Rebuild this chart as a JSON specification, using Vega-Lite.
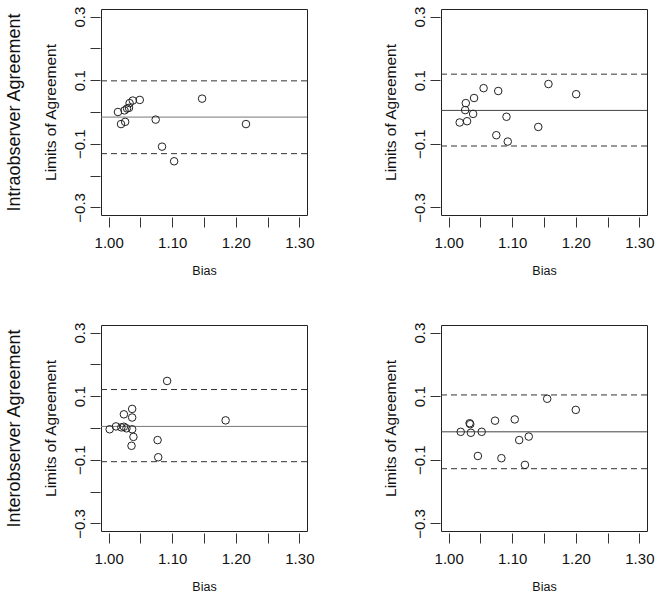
{
  "$schema": "https://vega.github.io/schema/vega-lite/v6.json",
  "autosize": "none",
  "padding": {"left": 101, "top": 9, "right": 559, "bottom": 589},
  "background": "white",
  "datasets": {
    "pts": [
      {"panel": "A", "bias": 1.0147, "loa": 0.000},
      {"panel": "A", "bias": 1.0195, "loa": -0.038},
      {"panel": "A", "bias": 1.026, "loa": -0.031},
      {"panel": "A", "bias": 1.025, "loa": 0.005},
      {"panel": "A", "bias": 1.029, "loa": 0.011},
      {"panel": "A", "bias": 1.032, "loa": 0.013},
      {"panel": "A", "bias": 1.033, "loa": 0.028},
      {"panel": "A", "bias": 1.038, "loa": 0.036},
      {"panel": "A", "bias": 1.049, "loa": 0.038},
      {"panel": "A", "bias": 1.074, "loa": -0.024},
      {"panel": "A", "bias": 1.084, "loa": -0.109},
      {"panel": "A", "bias": 1.103, "loa": -0.155},
      {"panel": "A", "bias": 1.147, "loa": 0.042},
      {"panel": "A", "bias": 1.216, "loa": -0.038},
      {"panel": "B", "bias": 1.0174, "loa": -0.033},
      {"panel": "B", "bias": 1.029, "loa": -0.029},
      {"panel": "B", "bias": 1.027, "loa": 0.028},
      {"panel": "B", "bias": 1.026, "loa": 0.006},
      {"panel": "B", "bias": 1.0385, "loa": -0.006},
      {"panel": "B", "bias": 1.040, "loa": 0.044},
      {"panel": "B", "bias": 1.055, "loa": 0.075},
      {"panel": "B", "bias": 1.078, "loa": 0.066},
      {"panel": "B", "bias": 1.091, "loa": -0.015},
      {"panel": "B", "bias": 1.075, "loa": -0.073},
      {"panel": "B", "bias": 1.093, "loa": -0.093},
      {"panel": "B", "bias": 1.141, "loa": -0.047},
      {"panel": "B", "bias": 1.157, "loa": 0.088},
      {"panel": "B", "bias": 1.2006, "loa": 0.056},
      {"panel": "C", "bias": 1.0016, "loa": -0.004},
      {"panel": "C", "bias": 1.0116, "loa": 0.005},
      {"panel": "C", "bias": 1.020, "loa": 0.002},
      {"panel": "C", "bias": 1.024, "loa": 0.004},
      {"panel": "C", "bias": 1.028, "loa": -0.001},
      {"panel": "C", "bias": 1.024, "loa": 0.043},
      {"panel": "C", "bias": 1.037, "loa": 0.060},
      {"panel": "C", "bias": 1.037, "loa": 0.033},
      {"panel": "C", "bias": 1.037, "loa": -0.004},
      {"panel": "C", "bias": 1.039, "loa": -0.028},
      {"panel": "C", "bias": 1.036, "loa": -0.056},
      {"panel": "C", "bias": 1.077, "loa": -0.038},
      {"panel": "C", "bias": 1.078, "loa": -0.092},
      {"panel": "C", "bias": 1.092, "loa": 0.148},
      {"panel": "C", "bias": 1.184, "loa": 0.024},
      {"panel": "D", "bias": 1.019, "loa": -0.012},
      {"panel": "D", "bias": 1.033, "loa": 0.015},
      {"panel": "D", "bias": 1.034, "loa": 0.012},
      {"panel": "D", "bias": 1.035, "loa": -0.015},
      {"panel": "D", "bias": 1.052, "loa": -0.012},
      {"panel": "D", "bias": 1.046, "loa": -0.088},
      {"panel": "D", "bias": 1.073, "loa": 0.023},
      {"panel": "D", "bias": 1.083, "loa": -0.095},
      {"panel": "D", "bias": 1.104, "loa": 0.027},
      {"panel": "D", "bias": 1.111, "loa": -0.038},
      {"panel": "D", "bias": 1.126, "loa": -0.027},
      {"panel": "D", "bias": 1.120, "loa": -0.116},
      {"panel": "D", "bias": 1.155, "loa": 0.092},
      {"panel": "D", "bias": 1.200, "loa": 0.057}
    ],
    "lines": [
      {"panel": "A", "kind": "mean", "value": -0.016},
      {"panel": "A", "kind": "upper", "value": 0.098},
      {"panel": "A", "kind": "lower", "value": -0.131},
      {"panel": "B", "kind": "mean", "value": 0.005},
      {"panel": "B", "kind": "upper", "value": 0.119},
      {"panel": "B", "kind": "lower", "value": -0.107},
      {"panel": "C", "kind": "mean", "value": 0.005},
      {"panel": "C", "kind": "upper", "value": 0.121},
      {"panel": "C", "kind": "lower", "value": -0.106},
      {"panel": "D", "kind": "mean", "value": -0.012},
      {"panel": "D", "kind": "upper", "value": 0.104},
      {"panel": "D", "kind": "lower", "value": -0.128}
    ]
  },
  "config": {
    "font": "Liberation Sans",
    "view": {"stroke": "#222", "strokeWidth": 1},
    "axis": {
      "grid": false, "domain": false, "tickColor": "#333", "tickSize": 10, "tickWidth": 1,
      "labelFont": "Liberation Sans", "labelFontSize": 15, "labelColor": "#111",
      "titleFont": "Liberation Sans", "titleFontWeight": "normal", "titleColor": "#111",
      "labelOverlap": false, "labelFlush": false
    },
    "axisX": {"offset": 2, "labelPadding": 8, "titleFontSize": 12.5, "titlePadding": 14},
    "axisY": {"offset": 1, "labelPadding": 3, "labelAngle": -90, "labelAlign": "center", "labelBaseline": "bottom", "titleFontSize": 15.5, "titlePadding": 14}
  },
  "columns": 2,
  "spacing": {"row": 110, "column": 134},
  "bounds": "flush",
  "concat": [
    {"width": 206, "height": 206, "resolve": {"axis": {"y": "independent"}}, "layer": [
      {"data": {"name": "lines"}, "transform": [{"filter": "datum.panel == 'A' && datum.kind != 'mean'"}], "mark": {"type": "rule", "strokeDash": [6, 4], "color": "#333", "strokeWidth": 1}, "encoding": {"y": {"field": "value", "type": "quantitative", "scale": {"domain": [-0.324, 0.324], "nice": false, "zero": false}, "axis": {"orient": "left", "title": "Intraobserver Agreement", "titleFontSize": 18, "titlePadding": 78, "offset": 0, "labels": false, "ticks": false, "domain": false, "values": [0]}}}},
      {"data": {"name": "lines"}, "transform": [{"filter": "datum.panel == 'A' && datum.kind == 'mean'"}], "mark": {"type": "rule", "color": "#777", "strokeWidth": 1}, "encoding": {"y": {"field": "value", "type": "quantitative", "scale": {"domain": [-0.324, 0.324], "nice": false, "zero": false}, "axis": null}}},
      {"data": {"name": "pts"}, "transform": [{"filter": "datum.panel == 'A'"}], "mark": {"type": "point", "shape": "circle", "filled": false, "size": 57, "color": "#222", "strokeWidth": 1, "opacity": 1},
       "encoding": {
         "x": {"field": "bias", "type": "quantitative", "scale": {"domain": [0.988, 1.312], "nice": false, "zero": false}, "axis": {"title": "Bias", "values": [1, 1.05, 1.1, 1.15, 1.2, 1.25, 1.3], "labelExpr": "round(datum.value*100) % 10 == 0 ? format(datum.value, '.2f') : ''"}},
         "y": {"field": "loa", "type": "quantitative", "scale": {"domain": [-0.324, 0.324], "nice": false, "zero": false}, "axis": {"orient": "left", "title": "Limits of Agreement", "values": [-0.3, -0.2, -0.1, 0, 0.1, 0.2, 0.3], "labelExpr": "abs(round(datum.value*10)) % 2 == 1 ? format(datum.value, '.1f') : ''"}}
       }}
    ]},
    {"width": 206, "height": 206, "layer": [
      {"data": {"name": "lines"}, "transform": [{"filter": "datum.panel == 'B' && datum.kind != 'mean'"}], "mark": {"type": "rule", "strokeDash": [6, 4], "color": "#333", "strokeWidth": 1}, "encoding": {"y": {"field": "value", "type": "quantitative", "scale": {"domain": [-0.324, 0.324], "nice": false, "zero": false}}}},
      {"data": {"name": "lines"}, "transform": [{"filter": "datum.panel == 'B' && datum.kind == 'mean'"}], "mark": {"type": "rule", "color": "#444", "strokeWidth": 1}, "encoding": {"y": {"field": "value", "type": "quantitative", "scale": {"domain": [-0.324, 0.324], "nice": false, "zero": false}}}},
      {"data": {"name": "pts"}, "transform": [{"filter": "datum.panel == 'B'"}], "mark": {"type": "point", "shape": "circle", "filled": false, "size": 57, "color": "#222", "strokeWidth": 1, "opacity": 1},
       "encoding": {
         "x": {"field": "bias", "type": "quantitative", "scale": {"domain": [0.988, 1.312], "nice": false, "zero": false}, "axis": {"title": "Bias", "values": [1, 1.05, 1.1, 1.15, 1.2, 1.25, 1.3], "labelExpr": "round(datum.value*100) % 10 == 0 ? format(datum.value, '.2f') : ''"}},
         "y": {"field": "loa", "type": "quantitative", "scale": {"domain": [-0.324, 0.324], "nice": false, "zero": false}, "axis": {"title": "Limits of Agreement", "values": [-0.3, -0.2, -0.1, 0, 0.1, 0.2, 0.3], "labelExpr": "abs(round(datum.value*10)) % 2 == 1 ? format(datum.value, '.1f') : ''"}}
       }}
    ]},
    {"width": 206, "height": 206, "resolve": {"axis": {"y": "independent"}}, "layer": [
      {"data": {"name": "lines"}, "transform": [{"filter": "datum.panel == 'C' && datum.kind != 'mean'"}], "mark": {"type": "rule", "strokeDash": [6, 4], "color": "#333", "strokeWidth": 1}, "encoding": {"y": {"field": "value", "type": "quantitative", "scale": {"domain": [-0.324, 0.324], "nice": false, "zero": false}, "axis": {"orient": "left", "title": "Interobserver Agreement", "titleFontSize": 18, "titlePadding": 78, "offset": 0, "labels": false, "ticks": false, "domain": false, "values": [0]}}}},
      {"data": {"name": "lines"}, "transform": [{"filter": "datum.panel == 'C' && datum.kind == 'mean'"}], "mark": {"type": "rule", "color": "#777", "strokeWidth": 1}, "encoding": {"y": {"field": "value", "type": "quantitative", "scale": {"domain": [-0.324, 0.324], "nice": false, "zero": false}, "axis": null}}},
      {"data": {"name": "pts"}, "transform": [{"filter": "datum.panel == 'C'"}], "mark": {"type": "point", "shape": "circle", "filled": false, "size": 57, "color": "#222", "strokeWidth": 1, "opacity": 1},
       "encoding": {
         "x": {"field": "bias", "type": "quantitative", "scale": {"domain": [0.988, 1.312], "nice": false, "zero": false}, "axis": {"title": "Bias", "values": [1, 1.05, 1.1, 1.15, 1.2, 1.25, 1.3], "labelExpr": "round(datum.value*100) % 10 == 0 ? format(datum.value, '.2f') : ''"}},
         "y": {"field": "loa", "type": "quantitative", "scale": {"domain": [-0.324, 0.324], "nice": false, "zero": false}, "axis": {"orient": "left", "title": "Limits of Agreement", "values": [-0.3, -0.2, -0.1, 0, 0.1, 0.2, 0.3], "labelExpr": "abs(round(datum.value*10)) % 2 == 1 ? format(datum.value, '.1f') : ''"}}
       }}
    ]},
    {"width": 206, "height": 206, "layer": [
      {"data": {"name": "lines"}, "transform": [{"filter": "datum.panel == 'D' && datum.kind != 'mean'"}], "mark": {"type": "rule", "strokeDash": [6, 4], "color": "#333", "strokeWidth": 1}, "encoding": {"y": {"field": "value", "type": "quantitative", "scale": {"domain": [-0.324, 0.324], "nice": false, "zero": false}}}},
      {"data": {"name": "lines"}, "transform": [{"filter": "datum.panel == 'D' && datum.kind == 'mean'"}], "mark": {"type": "rule", "color": "#444", "strokeWidth": 1}, "encoding": {"y": {"field": "value", "type": "quantitative", "scale": {"domain": [-0.324, 0.324], "nice": false, "zero": false}}}},
      {"data": {"name": "pts"}, "transform": [{"filter": "datum.panel == 'D'"}], "mark": {"type": "point", "shape": "circle", "filled": false, "size": 57, "color": "#222", "strokeWidth": 1, "opacity": 1},
       "encoding": {
         "x": {"field": "bias", "type": "quantitative", "scale": {"domain": [0.988, 1.312], "nice": false, "zero": false}, "axis": {"title": "Bias", "values": [1, 1.05, 1.1, 1.15, 1.2, 1.25, 1.3], "labelExpr": "round(datum.value*100) % 10 == 0 ? format(datum.value, '.2f') : ''"}},
         "y": {"field": "loa", "type": "quantitative", "scale": {"domain": [-0.324, 0.324], "nice": false, "zero": false}, "axis": {"title": "Limits of Agreement", "values": [-0.3, -0.2, -0.1, 0, 0.1, 0.2, 0.3], "labelExpr": "abs(round(datum.value*10)) % 2 == 1 ? format(datum.value, '.1f') : ''"}}
       }}
    ]}
  ]
}
